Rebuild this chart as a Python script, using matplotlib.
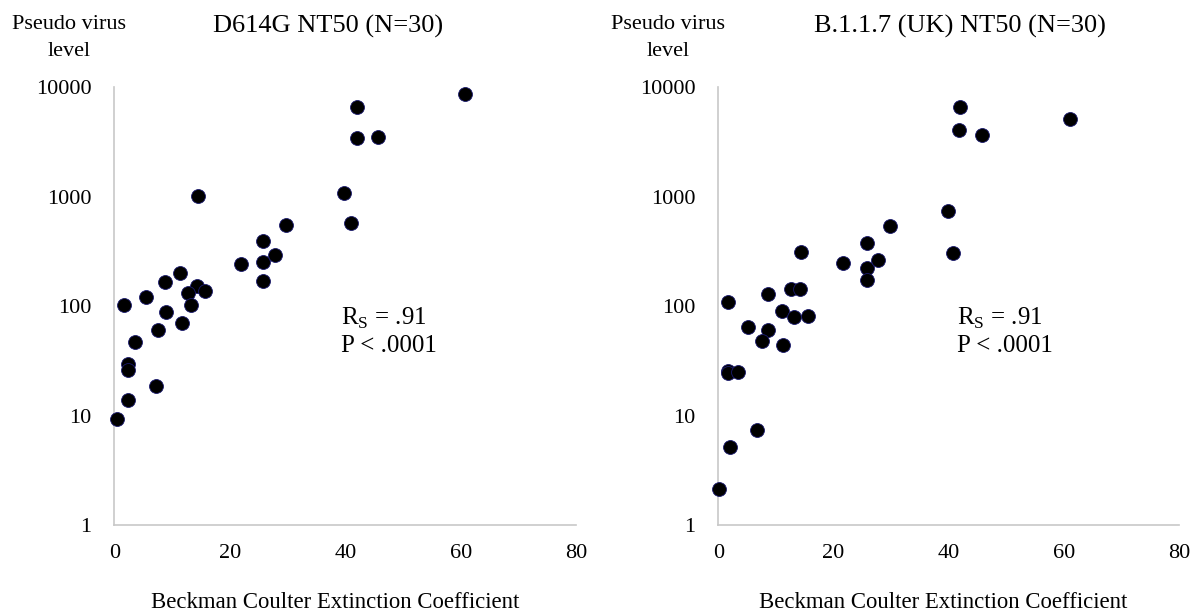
import matplotlib
matplotlib.use('Agg')
import matplotlib.pyplot as plt
from matplotlib.ticker import FixedLocator, FuncFormatter

plt.rcParams['font.family'] = ['Liberation Serif', 'DejaVu Serif']
plt.rcParams['mathtext.fontset'] = 'custom'
plt.rcParams['mathtext.rm'] = 'Liberation Serif'

# D614G NT50
d614g_x = [60.8, 42.1, 42.0, 45.7, 39.7, 40.9, 14.4, 29.8, 25.7, 21.9,
           25.7, 27.9, 25.7, 11.4, 8.8, 14.3, 15.7, 12.7, 5.5, 13.3,
           1.7, 9.0, 11.7, 7.6, 3.6, 2.3, 2.3, 7.2, 2.3, 0.4]
d614g_y = [8630, 6530, 3420, 3516, 1083, 569, 1017, 549, 392, 242,
           251, 292, 168, 199, 165, 152, 138, 133, 120, 102,
           102, 89, 69.5, 60.8, 46.6, 29.5, 26, 18.6, 13.9, 9.3]

# B.1.1.7 (UK) NT50
uk_x = [42.0, 61.0, 41.8, 45.7, 39.8, 40.8, 29.8, 25.8, 21.6, 25.8,
        27.8, 25.8, 14.4, 12.7, 14.2, 8.6, 1.6, 11.1, 13.2, 15.5,
        5.1, 8.6, 7.5, 11.3, 1.7, 1.7, 3.5, 6.7, 2.1, 0.2]
uk_y = [6530, 5070, 4050, 3645, 733, 303, 541, 378, 248, 225,
        263, 173, 311, 142, 142, 128, 108, 90, 78.9, 81.6,
        64.7, 60.4, 47.9, 43.8, 25.5, 24.3, 25, 7.4, 5.2, 2.13]

x_ticks = [0, 20, 40, 60, 80]
y_ticks = [1, 10, 100, 1000, 10000]

titles = ['D614G NT50 (N=30)', 'B.1.1.7 (UK) NT50 (N=30)']
x_label = 'Beckman Coulter Extinction Coefficient'
y_label = 'Pseudo virus\nlevel'

fig = plt.figure(figsize=(12, 6.15), dpi=100)

painéis = [
    (fig.add_axes([0.0953, 0.1463, 0.385, 0.712]), d614g_x, d614g_y),
    (fig.add_axes([0.5986, 0.1463, 0.384, 0.712]), uk_x, uk_y),
]

for ax, xs, ys in painéis:
    ax.scatter(xs, ys, s=100, color='black', edgecolors='#1a1a6e',
               linewidths=0.6, zorder=3, clip_on=False)
    ax.set_yscale('log')
    ax.set_xlim(0, 80)
    ax.set_ylim(1, 10000)
    ax.xaxis.set_major_locator(FixedLocator(x_ticks))
    ax.yaxis.set_major_locator(FixedLocator(y_ticks))
    ax.yaxis.set_minor_locator(FixedLocator([]))
    ax.yaxis.set_major_formatter(FuncFormatter(lambda v, p: f'{int(v)}'))
    ax.tick_params(length=0, labelsize=16, colors='black')
    ax.tick_params(axis='y', pad=16.5)
    ax.tick_params(axis='x', pad=13.5)
    for lado in ['top', 'right']:
        ax.spines[lado].set_visible(False)
    for lado in ['left', 'bottom']:
        ax.spines[lado].set_color('#c8c8c8')
        ax.spines[lado].set_linewidth(1.2)

# Titulos e rotulos posicionados em pixels da figura
W, H = 1200, 615

def texto(x, y, s, **kw):
    fig.text(x / W, 1 - y / H, s, **kw)

texto(328, 26, titles[0], ha='center', va='center', fontsize=19)
texto(960, 26, titles[1], ha='center', va='center', fontsize=19)

texto(69, 38, y_label, ha='center', va='center', fontsize=16, linespacing=1.6)
texto(668, 38, y_label, ha='center', va='center', fontsize=16, linespacing=1.6)

texto(335, 602, x_label, ha='center', va='center', fontsize=16.4)
texto(943, 602, x_label, ha='center', va='center', fontsize=16.4)

for x0 in [341, 957]:
    texto(x0, 318, r'R$_\mathrm{S}$ = .91', ha='left', va='center', fontsize=18)
    texto(x0, 346, 'P < .0001', ha='left', va='center', fontsize=18)

fig.savefig('out.png', dpi=100)
